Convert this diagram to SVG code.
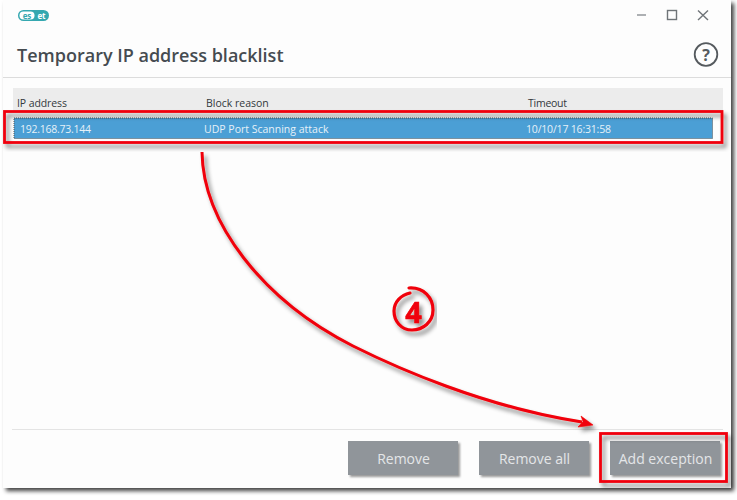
<svg xmlns="http://www.w3.org/2000/svg" width="737" height="500" viewBox="0 0 737 500">
<style>
text{font-family:"Open Sans","Noto Sans","Liberation Sans",sans-serif}
.hd{font-size:10.5px;fill:#33383c}
.row{font-size:10.5px;fill:#e6f1f8}
.btn{fill:#90959a;filter:url(#sb)}
.bt{font-size:14px;fill:#e4e6e8;text-anchor:middle}
.red{fill:none;stroke:#f00008;stroke-width:2.8}
.ctl{fill:none;stroke:#6f7478;stroke-width:1.4}
</style>
<defs>
<filter id="sw" x="-5%" y="-5%" width="110%" height="110%"><feDropShadow dx="3" dy="3" stdDeviation="2" flood-color="#000" flood-opacity=".75"/></filter>
<filter id="sb" x="-10%" y="-20%" width="120%" height="140%"><feDropShadow dx="2" dy="2" stdDeviation="1.2" flood-color="#000" flood-opacity=".4"/></filter>
<filter id="sr" x="-10%" y="-30%" width="120%" height="160%"><feDropShadow dx="3" dy="4" stdDeviation="2" flood-color="#000" flood-opacity=".45"/></filter>
</defs>
<rect width="737" height="500" fill="#fff"/>
<g id="window">
<rect x="3" y="0" width="728" height="488" fill="#fdfdfd" filter="url(#sw)"/>
<line x1="3" y1="77.5" x2="731" y2="77.5" stroke="#dcdcdc"/>
<line x1="12" y1="429.5" x2="723" y2="429.5" stroke="#e4e4e4"/>
</g>
<g id="logo">
<rect x="18" y="10" width="31" height="11" rx="5.5" fill="#35a8b0"/>
<rect x="19.500" y="11.500" width="15" height="8" rx="4" fill="#fff"/>
<text x="27" y="18.500" font-size="8" font-weight="700" fill="#35a8b0" text-anchor="middle">es</text>
<text x="41.500" y="18.500" font-size="8" font-weight="700" fill="#fff" text-anchor="middle">et</text>
</g>
<g id="title"><text x="17" y="62" font-size="18" fill="#454b50" font-weight="600" textLength="266.500">Temporary IP address blacklist</text></g>
<g id="window-controls">
<line x1="637" y1="15" x2="646" y2="15" stroke="#8a8e92" stroke-width="1.400"/>
<rect x="667.500" y="10.500" width="9" height="9" class="ctl"/>
<path d="M698 10.500L708 20M708 10.500L698 20" class="ctl"/>
</g>
<g id="help">
<circle cx="706" cy="54.500" r="11.300" fill="none" stroke="#555a5e" stroke-width="1.800"/>
<text x="706" y="60.500" font-size="16" font-weight="700" fill="#555a5e" text-anchor="middle">?</text>
</g>
<g id="table">
<rect x="13" y="88" width="710" height="24" fill="#ececec"/>
<text x="17" y="107" class="hd" textLength="50">IP address</text>
<text x="206" y="107" class="hd">Block reason</text>
<text x="528" y="107" class="hd" textLength="39">Timeout</text>
<rect x="14" y="118" width="698.500" height="20.500" fill="#4b9fd5" stroke="#555" stroke-dasharray="1 1"/>
<text x="20" y="133" class="row" textLength="71">192.168.73.144</text>
<text x="204" y="133" class="row">UDP Port Scanning attack</text>
<text x="526" y="133" class="row" textLength="85">10/10/17 16:31:58</text>
</g>
<g id="buttons">
<g id="btn-remove"><rect x="348" y="441" width="110" height="34" class="btn"/><text x="403.500" y="464" class="bt">Remove</text></g>
<g id="btn-remove-all"><rect x="479" y="441" width="110" height="34" class="btn"/><text x="534.500" y="464" class="bt">Remove all</text></g>
<g id="btn-add"><rect x="610" y="441" width="110" height="34" class="btn"/><text x="665.500" y="464" class="bt">Add exception</text></g>
</g>
<g id="callouts">
<rect x="4.500" y="111.500" width="717.500" height="31" class="red" filter="url(#sr)"/>
<rect x="600.500" y="433.500" width="126" height="48" class="red" filter="url(#sr)"/>
</g>
<g id="connectors" filter="url(#sr)">
<path d="M202 152C203 222 262 300 353 346C395 367 484 407 582 422" fill="none" stroke="#f00008" stroke-width="3"/>
<path d="M593 425L581 416L583 421.500L578 427Z" fill="#f00008" stroke="#f00008" stroke-width=".6" stroke-linejoin="round"/>
</g>
<g id="step-4" filter="url(#sr)">
<path d="M409 288C424 287 433 298 433 310C433 322 423 330 412 330C401 330 394 321 394 311C394 302 401 295 410 293" fill="none" stroke="#f00008" stroke-width="3.200" stroke-linecap="round"/>
<text x="413.500" y="323" font-family="Liberation Sans" font-size="29" font-weight="700" fill="#f00008" stroke="#f00008" stroke-width=".6" text-anchor="middle">4</text>
</g>
</svg>
